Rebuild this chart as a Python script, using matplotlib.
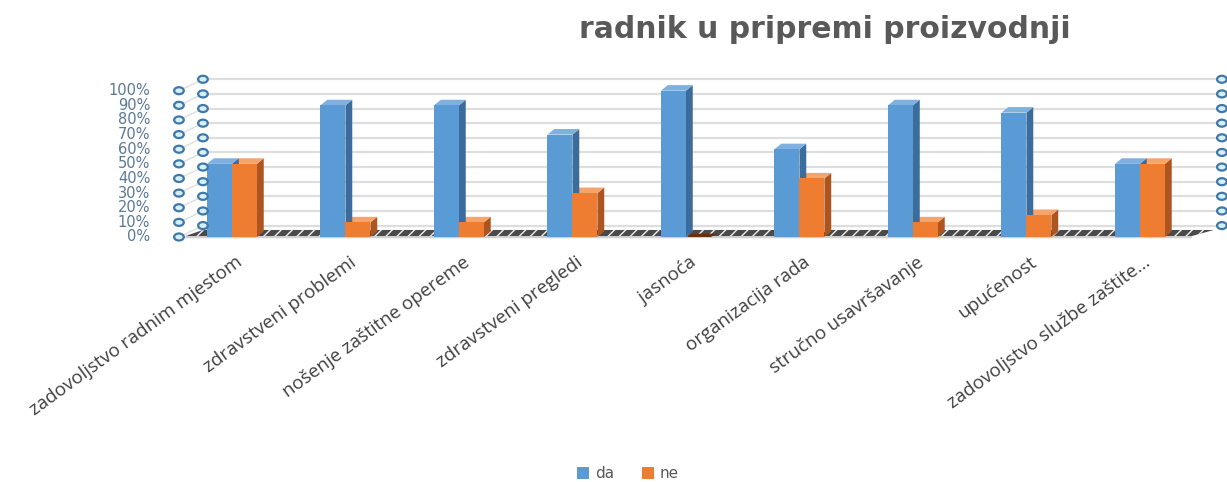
import matplotlib
matplotlib.use("Agg")
import matplotlib.pyplot as plt
from matplotlib.patches import Polygon, Ellipse, Rectangle
import numpy as np

categories = ["zadovoljstvo radnim mjestom", "zdravstveni problemi", "nošenje zaštitne opereme",
              "zdravstveni pregledi", "jasnoća", "organizacija rada", "stručno usavršavanje",
              "upućenost", "zadovoljstvo službe zaštite…"]
da = [0.50, 0.90, 0.90, 0.70, 1.00, 0.60, 0.90, 0.85, 0.50]
ne = [0.50, 0.10, 0.10, 0.30, 0.00, 0.40, 0.10, 0.15, 0.50]
ytick_labels = ["0%", "10%", "20%", "30%", "40%", "50%", "60%", "70%", "80%", "90%", "100%"]
title = "radnik u pripremi proizvodnji"

W, H = 1227, 482
fig = plt.figure(figsize=(W / 100, H / 100), dpi=100)
ax = fig.add_axes([160 / W, (H - 245) / H, 1067 / W, 175 / H])
ax.set_xlim(-0.634, 8.767)
ax.set_ylim(-0.0547, 1.1415)
ax.axis("off")

xfront, xback, xright = -0.467, -0.2555, 8.722
back = 0.078
ticks = np.arange(len(ytick_labels)) * 0.1

# gridlines on back wall & connecting lines
for v in ticks:
    ax.plot([xback, xright], [v + back, v + back], color="#dedede", lw=1.6, zorder=1)
    ax.plot([xfront, xback], [v, v + back], color="#dedede", lw=1.0, zorder=1)

# floor
floor = Polygon([(xfront + 0.05, 0.005), (xback, back - 0.03), (8.65, back - 0.03), (8.45, 0.005)],
                closed=True, facecolor="#4a4a4a", edgecolor="#eeeeee", hatch="///", lw=0, zorder=2)
ax.add_patch(floor)
ax.plot([xfront, 8.45], [0, 0], color="#d0d0d0", lw=1.0, zorder=2)

# circles
for v in ticks:
    for xx, yy in [(xfront, v), (xback, v + back), (xright, v + back)]:
        ax.add_patch(Ellipse((xx, yy), 0.085, 0.048, facecolor="#d6eef6", edgecolor="#3f78a8",
                             lw=1.6, zorder=6))

bw = 0.22
dx, dy = 0.06, 0.038
colors = {"da": ("#5b9bd5", "#3c6c9c", "#7fb0e0"), "ne": ("#ee7d31", "#ad5520", "#f5a46c")}

def bar3d(x0, v, cols):
    front, side, top = cols
    x1 = x0 + bw
    if v <= 0:
        ax.add_patch(Polygon([(x0, 0), (x0 + dx, dy * 0.6), (x1 + dx, dy * 0.6), (x1, 0)], closed=True,
                             facecolor="#6b2e0c", lw=0, zorder=4))
        return
    ax.add_patch(Polygon([(x1, 0), (x1 + dx, dy), (x1 + dx, v + dy), (x1, v)], closed=True,
                         facecolor=side, lw=0, zorder=4))
    ax.add_patch(Polygon([(x0, v), (x0 + dx, v + dy), (x1 + dx, v + dy), (x1, v)], closed=True,
                         facecolor=top, lw=0, zorder=4))
    ax.add_patch(Rectangle((x0, 0), bw, v, facecolor=front, lw=0, zorder=5))

for i in range(len(categories)):
    bar3d(i, ne[i], colors["ne"])
    bar3d(i - bw, da[i], colors["da"])

# y tick labels
for v, lab in zip(ticks, ytick_labels):
    ax.text(-0.72, v, lab, ha="right", va="center", fontsize=10.5, color="#5a7898",
            family="DejaVu Sans", clip_on=False)

# category labels
for i, c in enumerate(categories):
    ax.text(i + 0.03, -0.11, c, rotation=36, rotation_mode="anchor", ha="right", va="top",
            fontsize=13.5, color="#404040", family="Open Sans", clip_on=False)

fig.text(825 / W, 1 - 30 / H, title, ha="center", va="center", fontsize=21.5, fontweight="bold",
         color="#595959", family="DejaVu Sans")

handles = [Rectangle((0, 0), 1, 1, facecolor=colors["da"][0]), Rectangle((0, 0), 1, 1, facecolor=colors["ne"][0])]
fig.legend(handles, ["da", "ne"], loc="center", bbox_to_anchor=(628 / W, 1 - 474 / H), ncol=2,
           frameon=False, fontsize=11, handlelength=0.8, handleheight=0.8, columnspacing=1.8,
           handletextpad=0.4, labelcolor="#595959")

fig.savefig("out.png", dpi=100)
